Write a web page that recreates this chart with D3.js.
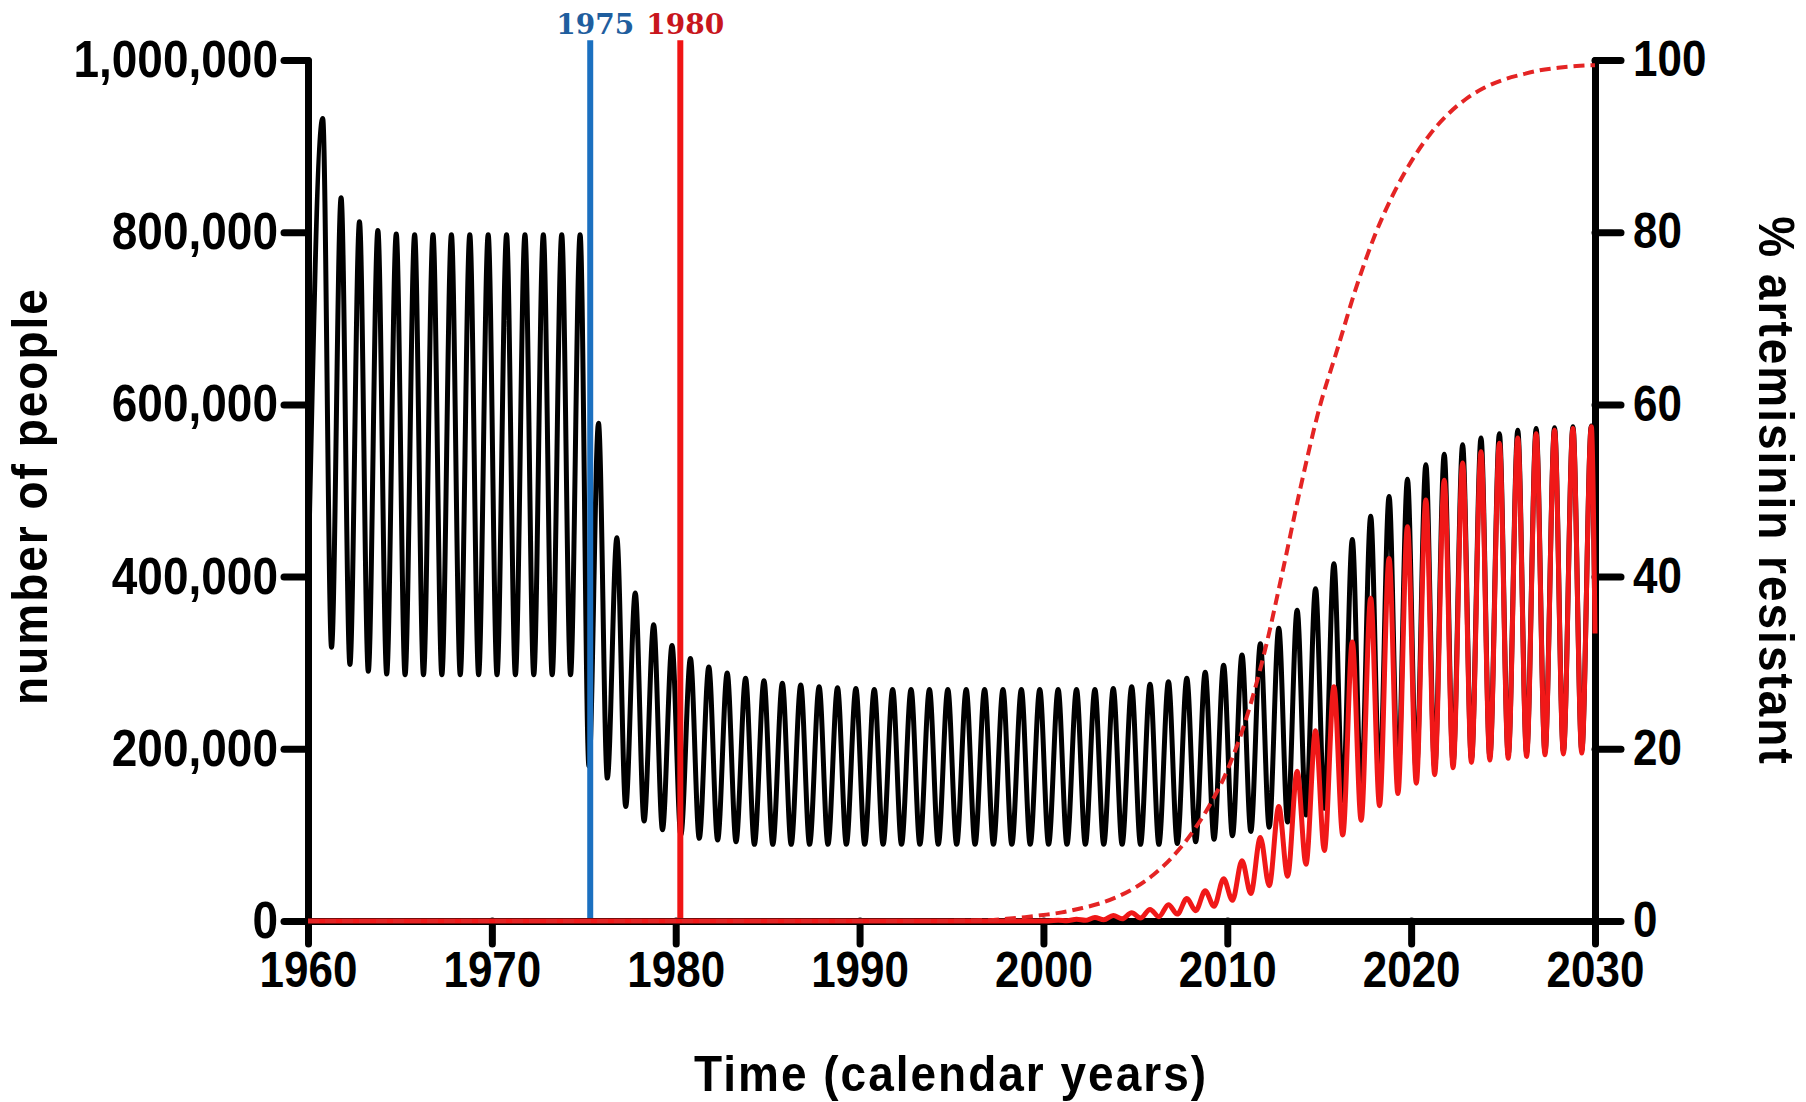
<!DOCTYPE html>
<html>
<head>
<meta charset="utf-8">
<script src="https://cdn.jsdelivr.net/npm/d3@7"></script>
<style>
body {margin:0; background:#fff;}
.axis path, .axis line {stroke:#000; stroke-width:7px; stroke-linecap:round;}
.axis text {font-family:"Liberation Sans", Arial, sans-serif; font-weight:bold; fill:#000;}
.label {font-family:"Liberation Sans", Arial, sans-serif; font-weight:bold; font-size:46px; letter-spacing:2px; fill:#000;}
.marker-label {font-family:"DejaVu Serif", serif; font-weight:bold; font-size:28px;}
</style>
</head>
<body>
<script>

//ticks
var xTicks = [1960, 1970, 1980, 1990, 2000, 2010, 2020, 2030],
	leftTicks = [0, 200000, 400000, 600000, 800000, 1000000],
	rightTicks = [0, 20, 40, 60, 80, 100];

//seasonal cycle: peaks sit at year+0.8, troughs at year+0.28
var peakPhase = 0.8,
	troughPhase = 0.28;

//all infections (thousands), one peak per year 1960..2029
var blackPeaks = [932, 840, 812, 802, 798,
	797, 797, 797, 797, 797, 797, 797, 797, 797, 797,
	578, 445, 381, 344, 320, 305, 295, 288, 282, 279,
	276, 274, 272, 271, 270,
	269, 269, 269, 269, 269, 269, 269, 269, 269, 269, 269, 269, 269,
	270, 272, 275, 278, 282, 289, 297,
	309, 322, 340, 361, 386, 415, 443, 470, 493, 513,
	530, 542, 553, 561, 566, 570, 572, 573, 574, 575];
//troughs 1961..2029
var blackTroughs = [318, 298, 290, 287,
	286, 286, 286, 286, 286, 286, 286, 286, 286, 286,
	180, 166, 133, 116, 106, 100, 96, 94, 92,
	89, 89, 89, 89, 89, 89, 89, 89, 89, 89, 89, 89, 89, 89, 89, 89, 89, 89, 89, 89, 89, 89, 89,
	90, 92, 95,
	99, 104, 109, 115, 123, 131, 140, 150, 158, 165,
	172, 178, 184, 188, 191, 193, 195, 196, 197, 198];
var blackStart = 390,
	blackEnd = 337;

//resistant infections (thousands), zero until 2000, then peaks/troughs 2000..2029
var redPeaks = [1, 2, 4, 6.5, 9.5, 13.5, 19, 26, 35, 49,
	70, 97, 133, 174, 221, 272, 324, 375, 421, 458,
	489, 512, 532, 545, 555, 561, 566, 570, 572, 574];
var redTroughs = [0, 0.3, 0.8, 1.5, 2.5, 3.5, 5, 8, 12, 17,
	24, 32, 41, 52, 66, 82, 100, 117, 134, 148,
	160, 170, 178, 184, 187, 189, 191, 193, 194, 195];
var redEnd = 334;

//% artemisinin resistant
var resistYears = [1960, 1994, 1996, 1997, 1998, 1999, 2000, 2001, 2002, 2003, 2004, 2005, 2006, 2007, 2008, 2009,
	2010, 2011, 2012, 2013, 2014, 2015, 2016, 2017, 2018, 2019,
	2020, 2021, 2022, 2023, 2024, 2025, 2026, 2027, 2028, 2029, 2030];
var resistPct = [0, 0, 0.05, 0.1, 0.25, 0.45, 0.7, 1.0, 1.45, 2.0, 2.8, 3.9, 5.4, 7.4, 10.0, 13.3,
	17.5, 23.3, 31, 40.5, 50.5, 59.5, 66.5, 73.5, 79.5, 84.3,
	88.2, 91.3, 93.7, 95.5, 96.8, 97.7, 98.3, 98.8, 99.1, 99.3, 99.4];

//intervention years (vertical markers)
var markerYears = [1975.35, 1980.25],
	markerNames = ["1975", "1980"],
	markerColors = ["#1b70c0", "#f01414"],
	markerTextColors = ["#1f5e9e", "#c8161d"];

//////////////
// setup
//////////////
var width = 1806, height = 1102;

var svg = d3.select("body").append("svg")
	.attr("width", width)
	.attr("height", height)
	.style("background", "#fff");

var x = d3.scaleLinear().domain([1960, 2030]).range([308, 1595]),
	yLeft = d3.scaleLinear().domain([0, 1000000]).range([921, 60]),
	yRight = d3.scaleLinear().domain([0, 100]).range([921, 60]);

//axes
svg.append("g")
	.attr("class", "axis")
	.attr("transform", "translate(0," + yLeft(0) + ")")
	.style("font-size", "44px")
	.call(d3.axisBottom(x).tickValues(xTicks).tickFormat(d3.format("d"))
		.tickSize(23).tickSizeOuter(0).tickPadding(8));

svg.append("g")
	.attr("class", "axis")
	.attr("transform", "translate(" + x(1960) + ",0)")
	.style("font-size", "46px")
	.call(d3.axisLeft(yLeft).tickValues(leftTicks).tickFormat(d3.format(","))
		.tickSize(24).tickSizeOuter(0).tickPadding(6));

svg.append("g")
	.attr("class", "axis")
	.attr("transform", "translate(" + x(2030) + ",0)")
	.style("font-size", "44px")
	.call(d3.axisRight(yRight).tickValues(rightTicks).tickFormat(d3.format("d"))
		.tickSize(26).tickSizeOuter(0).tickPadding(12));

svg.selectAll(".axis text").attr("font-family", null).attr("font-size", null);

//glyphs in the original are a little taller than wide
svg.selectAll(".axis text").each(function() {
	var t = d3.select(this),
		yy = +t.attr("y") || 0;
	t.attr("y", 0).attr("transform", "translate(0," + yy + ") scale(1,1.12)");
});

//////////////
// build series
//////////////
var blackPts = [[1960, blackStart * 1000]];
blackPeaks.forEach(function(v, i) {
	blackPts.push([1960 + i + peakPhase, v * 1000]);
	if (i < blackTroughs.length) blackPts.push([1961 + i + troughPhase, blackTroughs[i] * 1000]);
});
blackPts.push([2030, blackEnd * 1000]);

var redPts = [[1960, 0]];
redPeaks.forEach(function(v, i) {
	redPts.push([2000 + i + troughPhase, redTroughs[i] * 1000]);
	redPts.push([2000 + i + peakPhase, v * 1000]);
});
redPts.push([2030, redEnd * 1000]);

var pctPts = resistYears.map(function(yr, i) { return [yr, resistPct[i]]; });

var lineLeft = d3.line()
	.x(function(d) { return x(d[0]); })
	.y(function(d) { return yLeft(d[1]); })
	.curve(d3.curveMonotoneX);
var lineRight = d3.line()
	.x(function(d) { return x(d[0]); })
	.y(function(d) { return yRight(d[1]); })
	.curve(d3.curveMonotoneX);

svg.append("path")
	.datum(blackPts)
	.attr("fill", "none")
	.attr("stroke", "#000")
	.attr("stroke-width", 5)
	.attr("stroke-linejoin", "round")
	.attr("d", lineLeft);

svg.append("path")
	.datum(redPts)
	.attr("fill", "none")
	.attr("stroke", "#f01818")
	.attr("stroke-width", 5)
	.attr("stroke-linejoin", "round")
	.attr("d", lineLeft);

svg.append("path")
	.datum(pctPts)
	.attr("fill", "none")
	.attr("stroke", "#e42424")
	.attr("stroke-width", 4)
	.attr("stroke-dasharray", "11,6")
	.attr("d", lineRight);

//vertical markers
markerYears.forEach(function(yr, i) {
	svg.append("line")
		.attr("x1", x(yr)).attr("x2", x(yr))
		.attr("y1", yLeft(1023000)).attr("y2", yLeft(0) - 3)
		.attr("stroke", markerColors[i])
		.attr("stroke-width", 6);
	svg.append("text")
		.attr("class", "marker-label")
		.attr("x", x(yr) + 5)
		.attr("y", 34)
		.attr("text-anchor", "middle")
		.attr("fill", markerTextColors[i])
		.text(markerNames[i]);
});

//axis titles
svg.append("text")
	.attr("class", "label")
	.attr("transform", "translate(47,496) rotate(-90) scale(1,1.1)")
	.attr("text-anchor", "middle")
	.text("number of people");

svg.append("text")
	.attr("class", "label")
	.attr("transform", "translate(1759,491) rotate(90) scale(1,1.1)")
	.attr("text-anchor", "middle")
	.text("% artemisinin resistant");

svg.append("text")
	.attr("class", "label")
	.attr("transform", "translate(951,1091) scale(1,1.1)")
	.attr("text-anchor", "middle")
	.text("Time (calendar years)");

</script>
</body>
</html>
